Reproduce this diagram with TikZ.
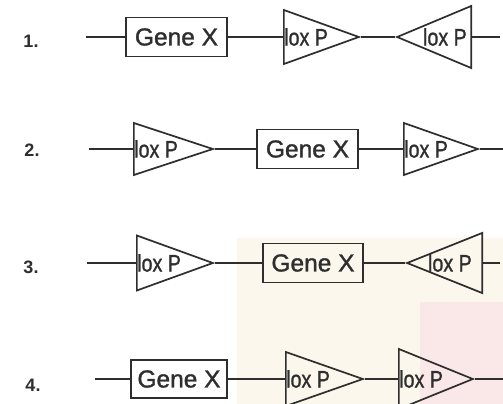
\documentclass[tikz,border=0pt]{standalone}
\usepackage{fontspec}
\setmainfont{Liberation Sans}
\newfontfamily\heavysans[FakeBold=1.3]{Liberation Sans}
\usetikzlibrary{shapes.geometric}
\definecolor{ink}{HTML}{2E2E2E}
\definecolor{wmbeige}{HTML}{FCF7EC}
\definecolor{wmpink}{HTML}{FAE8E8}
\tikzset{
  wire/.style={draw=ink, line width=2pt},
  genebox/.style={draw=ink, line width=1.9pt, rectangle, inner sep=0pt,
    minimum width=101pt, minimum height=39pt, text=ink,
    font=\heavysans\fontsize{24.5}{24.5}\selectfont},
  loxtri/.style={draw=ink, line width=1.7pt, isosceles triangle,
    isosceles triangle stretches, inner sep=0pt, anchor=lower side},
  loxtext/.style={inner sep=0pt, text=ink, font=\heavysans\fontsize{24}{24}\selectfont},
  numlabel/.style={inner sep=0pt, text=ink, font=\fontsize{18}{18}\selectfont\bfseries},
}
\newcommand{\loxP}{\scalebox{0.82}[1]{lox P}}
\begin{document}
\begin{tikzpicture}[x=1pt, y=-1pt]
\useasboundingbox (0,0) rectangle (503,404);
\fill[white] (0,0) rectangle (503,404);
\fill[wmbeige] (237,238) rectangle (503,404);
\fill[wmpink] (420,302) rectangle (503,404);

% ---------- row 1 ----------
\node[numlabel] (n1) at (31,41) {1.};
\coordinate (r1s) at (86,37);
\node[genebox] (g1) at (176.5,37) {Gene X};
\node[loxtri, minimum width=54pt, minimum height=75pt] (t1a) at (283,37) {};
\node[loxtri, shape border rotate=180, minimum width=62pt, minimum height=74pt] (t1b) at (472,37) {};
\coordinate (r1e) at (500,37);
\node[loxtext, anchor=west] (l1a) at (284,37) {\loxP};
\node[loxtext, anchor=east] (l1b) at (467,37) {\loxP};
\draw[wire] (r1s) -- (g1.west);
\draw[wire] (g1.east) -- (t1a.lower side);
\draw[wire] (t1a.apex) -- (t1b.apex);
\draw[wire] (t1b.lower side) -- (r1e);

% ---------- row 2 ----------
\node[numlabel] (n2) at (32,150) {2.};
\coordinate (r2s) at (89,149);
\node[loxtri, minimum width=52pt, minimum height=79pt] (t2a) at (133,149) {};
\node[genebox] (g2) at (307.5,149) {Gene X};
\node[loxtri, minimum width=52pt, minimum height=74pt] (t2b) at (403,149) {};
\coordinate (r2e) at (503,149);
\node[loxtext, anchor=west] (l2a) at (134,149) {\loxP};
\node[loxtext, anchor=west] (l2b) at (404,149) {\loxP};
\draw[wire] (r2s) -- (t2a.lower side);
\draw[wire] (t2a.apex) -- (g2.west);
\draw[wire] (g2.east) -- (t2b.lower side);
\draw[wire] (t2b.apex) -- (r2e);

% ---------- row 3 ----------
\node[numlabel] (n3) at (31,267) {3.};
\coordinate (r3s) at (87,263);
\node[loxtri, minimum width=55pt, minimum height=76pt] (t3a) at (136,263) {};
\node[genebox, minimum width=100pt] (g3) at (313,263) {Gene X};
\node[loxtri, shape border rotate=180, minimum width=60pt, minimum height=75pt] (t3b) at (483,263) {};
\coordinate (r3e) at (500,263);
\node[loxtext, anchor=west] (l3a) at (137,263) {\loxP};
\node[loxtext, anchor=east] (l3b) at (472,263) {\loxP};
\draw[wire] (r3s) -- (t3a.lower side);
\draw[wire] (t3a.apex) -- (g3.west);
\draw[wire] (g3.east) -- (t3b.apex);
\draw[wire] (t3b.lower side) -- (r3e);

% ---------- row 4 ----------
\node[numlabel] (n4) at (33,385) {4.};
\coordinate (r4s) at (95,379);
\node[genebox, minimum width=96pt, minimum height=38pt] (g4) at (179,379) {Gene X};
\node[loxtri, minimum width=54pt, minimum height=77pt] (t4a) at (285,379) {};
\node[loxtri, minimum width=60pt, minimum height=74pt] (t4b) at (398,379) {};
\coordinate (r4e) at (503,379);
\node[loxtext, anchor=west] (l4a) at (286,379) {\loxP};
\node[loxtext, anchor=west] (l4b) at (399,379) {\loxP};
\draw[wire] (r4s) -- (g4.west);
\draw[wire] (g4.east) -- (t4a.lower side);
\draw[wire] (t4a.apex) -- (t4b.lower side);
\draw[wire] (t4b.apex) -- (r4e);
\end{tikzpicture}
\end{document}
